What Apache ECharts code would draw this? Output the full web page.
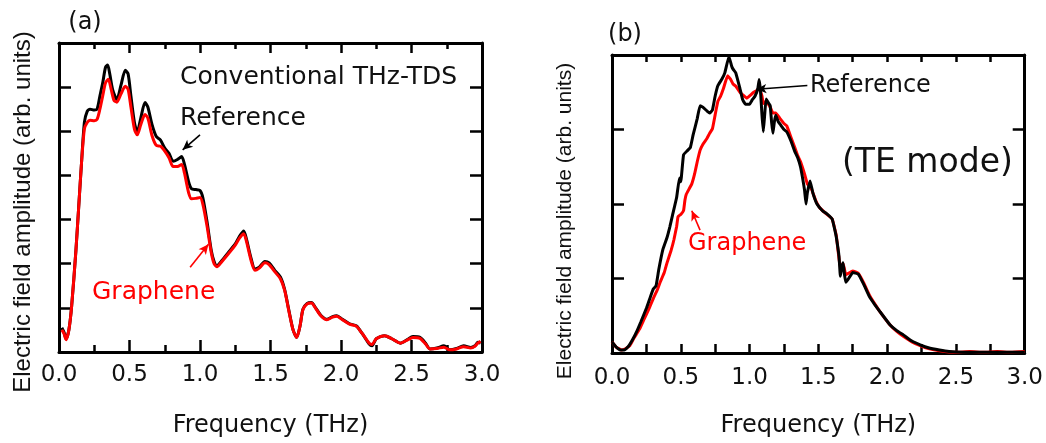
<!DOCTYPE html>
<html><head><meta charset="utf-8">
<script src="https://cdn.jsdelivr.net/npm/echarts@6/dist/echarts.min.js"></script>
<style>html,body{margin:0;padding:0;background:#fff}#c{width:1046px;height:443px}</style>
</head><body><div id="c"></div>
<script>
// ---- tick labels ----
const xTickLabels = ['0.0', '0.5', '1.0', '1.5', '2.0', '2.5', '3.0'];

// ---- panel (a): conventional THz-TDS ----
const refA = [[0.02,0.55],[0.035,0.45],[0.05,0.3],[0.07,0.5],[0.09,1.05],[0.12,2.3],[0.14,3.3],[0.16,4.3],[0.18,5.2],[0.2,5.45],[0.22,5.5],[0.25,5.48],[0.27,5.5],[0.29,5.8],[0.31,6.1],[0.33,6.45],[0.345,6.5],[0.36,6.3],[0.38,5.95],[0.41,5.72],[0.44,6.05],[0.47,6.38],[0.49,6.3],[0.51,5.8],[0.535,5.2],[0.555,4.98],[0.58,5.3],[0.61,5.65],[0.63,5.55],[0.66,5.15],[0.69,4.88],[0.72,4.8],[0.75,4.62],[0.78,4.5],[0.81,4.32],[0.84,4.36],[0.87,4.43],[0.89,4.25],[0.92,3.85],[0.94,3.7],[0.97,3.68],[1.0,3.66],[1.02,3.5],[1.05,2.95],[1.08,2.3],[1.1,2.05],[1.12,1.95],[1.15,2.05],[1.2,2.25],[1.25,2.45],[1.28,2.62],[1.31,2.74],[1.33,2.55],[1.36,2.15],[1.39,1.88],[1.42,1.92],[1.46,2.05],[1.49,2.02],[1.53,1.85],[1.57,1.7],[1.6,1.42],[1.63,0.95],[1.66,0.5],[1.686,0.33],[1.71,0.6],[1.73,0.97],[1.76,1.1],[1.79,1.12],[1.82,1.0],[1.86,0.82],[1.9,0.74],[1.94,0.8],[1.97,0.82],[2.01,0.74],[2.06,0.64],[2.11,0.59],[2.15,0.42],[2.2,0.18],[2.22,0.14],[2.25,0.3],[2.31,0.37],[2.36,0.3],[2.42,0.2],[2.47,0.28],[2.51,0.35],[2.56,0.33],[2.6,0.2],[2.63,0.07],[2.68,0.09],[2.73,0.14],[2.77,0.05],[2.82,0.08],[2.87,0.14],[2.92,0.1],[2.95,0.14],[2.97,0.22],[2.99,0.2]];
const graA = [[0.02,0.5],[0.035,0.42],[0.05,0.28],[0.07,0.5],[0.09,1.05],[0.12,2.3],[0.14,3.3],[0.16,4.3],[0.18,5.05],[0.2,5.2],[0.22,5.25],[0.25,5.24],[0.27,5.27],[0.29,5.5],[0.31,5.8],[0.33,6.1],[0.35,6.18],[0.37,5.95],[0.39,5.7],[0.41,5.66],[0.44,5.85],[0.47,6.02],[0.49,5.95],[0.51,5.55],[0.535,5.05],[0.555,4.92],[0.58,5.15],[0.61,5.38],[0.63,5.3],[0.66,4.9],[0.69,4.68],[0.72,4.66],[0.75,4.55],[0.78,4.4],[0.81,4.2],[0.84,4.2],[0.87,4.25],[0.89,4.05],[0.92,3.6],[0.94,3.47],[0.97,3.48],[1.0,3.5],[1.02,3.35],[1.05,2.85],[1.08,2.25],[1.1,2.0],[1.12,1.93],[1.15,2.03],[1.2,2.22],[1.25,2.42],[1.28,2.58],[1.31,2.68],[1.33,2.5],[1.36,2.1],[1.39,1.85],[1.42,1.9],[1.46,2.02],[1.49,1.98],[1.53,1.82],[1.57,1.66],[1.6,1.4],[1.63,0.93],[1.66,0.5],[1.686,0.33],[1.71,0.6],[1.73,0.96],[1.76,1.09],[1.79,1.11],[1.82,0.99],[1.86,0.81],[1.9,0.73],[1.94,0.79],[1.97,0.81],[2.01,0.73],[2.06,0.63],[2.11,0.58],[2.15,0.42],[2.2,0.2],[2.22,0.17],[2.25,0.3],[2.31,0.37],[2.36,0.3],[2.42,0.2],[2.47,0.27],[2.51,0.33],[2.56,0.31],[2.6,0.18],[2.63,0.07],[2.68,0.08],[2.73,0.11],[2.77,0.05],[2.82,0.07],[2.87,0.12],[2.92,0.09],[2.95,0.13],[2.97,0.2],[2.99,0.24]];

// ---- panel (b): TE mode ----
const refB = [[0.0,0.15],[0.03,0.08],[0.06,0.04],[0.09,0.04],[0.12,0.09],[0.15,0.18],[0.18,0.29],[0.21,0.42],[0.25,0.6],[0.28,0.76],[0.3,0.86],[0.32,0.9],[0.34,1.12],[0.37,1.39],[0.4,1.55],[0.42,1.69],[0.44,1.85],[0.47,2.09],[0.49,2.35],[0.5,2.3],[0.52,2.66],[0.55,2.72],[0.57,2.76],[0.59,2.93],[0.62,3.15],[0.64,3.32],[0.66,3.3],[0.69,3.25],[0.71,3.22],[0.73,3.26],[0.75,3.45],[0.77,3.59],[0.8,3.68],[0.82,3.76],[0.85,3.98],[0.87,3.85],[0.88,3.81],[0.9,3.76],[0.93,3.55],[0.95,3.4],[0.97,3.34],[1.0,3.34],[1.02,3.4],[1.04,3.45],[1.06,3.55],[1.07,3.67],[1.08,3.5],[1.09,3.2],[1.1,2.97],[1.11,3.2],[1.12,3.41],[1.14,3.35],[1.15,3.32],[1.16,3.1],[1.17,2.95],[1.18,3.1],[1.19,3.19],[1.21,3.1],[1.23,3.05],[1.25,3.0],[1.27,2.97],[1.3,2.85],[1.33,2.7],[1.35,2.62],[1.37,2.5],[1.39,2.3],[1.4,2.18],[1.41,2.0],[1.42,2.15],[1.44,2.31],[1.46,2.15],[1.49,2.0],[1.53,1.91],[1.56,1.87],[1.6,1.8],[1.62,1.65],[1.63,1.56],[1.65,1.3],[1.66,1.03],[1.67,1.15],[1.68,1.21],[1.69,1.05],[1.7,0.95],[1.72,1.0],[1.75,1.08],[1.79,1.06],[1.83,0.92],[1.87,0.76],[1.91,0.65],[1.95,0.55],[2.02,0.38],[2.07,0.3],[2.12,0.24],[2.18,0.16],[2.24,0.11],[2.3,0.07],[2.38,0.04],[2.45,0.02],[2.55,0.01],[2.7,0.01],[2.85,0.01],[3.0,0.01]];
const graB = [[0.0,0.15],[0.03,0.08],[0.07,0.04],[0.1,0.06],[0.13,0.1],[0.16,0.2],[0.2,0.32],[0.23,0.44],[0.27,0.6],[0.3,0.73],[0.33,0.85],[0.35,0.95],[0.38,1.08],[0.4,1.21],[0.43,1.38],[0.45,1.52],[0.47,1.7],[0.48,1.83],[0.5,1.86],[0.52,1.91],[0.53,2.05],[0.54,2.13],[0.56,2.2],[0.58,2.27],[0.6,2.4],[0.62,2.57],[0.64,2.72],[0.66,2.8],[0.69,2.88],[0.71,2.95],[0.73,3.01],[0.75,3.2],[0.77,3.38],[0.79,3.45],[0.81,3.55],[0.84,3.72],[0.86,3.68],[0.88,3.61],[0.9,3.58],[0.93,3.5],[0.96,3.45],[0.98,3.42],[1.0,3.45],[1.03,3.5],[1.05,3.52],[1.07,3.55],[1.09,3.45],[1.1,3.35],[1.12,3.38],[1.15,3.3],[1.17,3.22],[1.19,3.22],[1.22,3.15],[1.25,3.08],[1.27,3.05],[1.3,2.9],[1.33,2.75],[1.35,2.65],[1.37,2.57],[1.4,2.4],[1.42,2.27],[1.45,2.2],[1.48,2.05],[1.51,1.95],[1.55,1.88],[1.6,1.8],[1.63,1.58],[1.66,1.15],[1.68,1.2],[1.7,1.05],[1.75,1.1],[1.79,1.07],[1.83,0.94],[1.87,0.78],[1.91,0.66],[1.95,0.55],[2.02,0.38],[2.07,0.29],[2.12,0.22],[2.18,0.15],[2.24,0.1],[2.3,0.06],[2.38,0.03],[2.5,0.01],[2.6,0.02],[2.7,0.01],[2.8,0.02],[2.9,0.01],[3.0,0.02]];

// ---- annotation arrows (data coordinates: [from, to]) ----
const arrowRefA = [[1.0, 4.92], [0.877, 4.58]];
const arrowGraA = [[0.93, 1.92], [1.06, 2.44]];
const arrowRefB = [[1.42, 3.59], [1.05, 3.54]];
const arrowGraB = [[0.64, 1.65], [0.58, 1.91]];

const TXT = '#111';
const FONT = 'DejaVu Sans';

function xAx(grid, pos, main, majorLen, minorLen, margin, nameGap) {
  return {
    type: 'value', gridIndex: grid, position: pos, min: 0, max: 3, interval: 0.5,
    axisLine: { show: true, onZero: false, lineStyle: { color: '#000', width: 3 } },
    axisTick: { show: true, inside: true, length: majorLen, lineStyle: { color: '#000', width: 2.5 } },
    minorTick: { show: true, splitNumber: 2, length: minorLen, lineStyle: { color: '#000', width: 2.5 } },
    splitLine: { show: false }, minorSplitLine: { show: false },
    axisLabel: { show: main, margin: margin, color: TXT, fontFamily: FONT, fontSize: 23,
      formatter: v => xTickLabels[Math.round(v / 0.5)] },
    name: main ? 'Frequency (THz)' : '', nameLocation: 'middle', nameGap: nameGap,
    nameTextStyle: { color: TXT, fontFamily: FONT, fontSize: 24 }
  };
}
function yAx(grid, pos, max, len) {
  return {
    type: 'value', gridIndex: grid, position: pos, min: 0, max: max, interval: 1,
    axisLine: { show: true, onZero: false, lineStyle: { color: '#000', width: 3 } },
    axisTick: { show: true, inside: true, length: len, lineStyle: { color: '#000', width: 2.5 } },
    splitLine: { show: false },
    axisLabel: { show: false }
  };
}
function arrowLine(pts, color) {
  return {
    silent: true, animation: false, symbol: ['none', 'arrow'], symbolSize: [7, 10],
    lineStyle: { color: color, width: 1.6, type: 'solid' },
    label: { show: false },
    emphasis: { disabled: true },
    data: [[{ coord: pts[0] }, { coord: pts[1] }]]
  };
}
function lineSeries(data, color, xi, yi, z, extra) {
  return Object.assign({
    type: 'line', data: data, xAxisIndex: xi, yAxisIndex: yi, showSymbol: false, symbol: 'none',
    smooth: 0.25, z: z, animation: false, silent: true,
    lineStyle: { color: color, width: 3 }
  }, extra || {});
}

const chart = echarts.init(document.getElementById('c'));
chart.setOption({
  backgroundColor: '#fff',
  animation: false,
  grid: [
    { left: 59, top: 43, width: 423, height: 310 },
    { left: 612, top: 55, width: 413, height: 303 }
  ],
  xAxis: [
    xAx(0, 'bottom', true, 12, 7, 12, 62),
    xAx(0, 'top', false, 10, 6, 9, 58),
    xAx(1, 'bottom', true, 9, 9, 14, 61),
    xAx(1, 'top', false, 7, 7, 10, 56)
  ],
  yAxis: [
    yAx(0, 'left', 7, 12), yAx(0, 'right', 7, 12),
    yAx(1, 'left', 4, 12), yAx(1, 'right', 4, 12)
  ],
  series: [
    lineSeries(refA, '#000', 0, 0, 2, { markLine: arrowLine(arrowRefA, '#000') }),
    lineSeries(graA, '#ff0000', 0, 0, 3, { markLine: arrowLine(arrowGraA, '#ff0000') }),
    lineSeries(graB, '#ff0000', 2, 2, 2, { smooth: 0.1, markLine: arrowLine(arrowGraB, '#ff0000') }),
    lineSeries(refB, '#000', 2, 2, 3, { smooth: 0.1, markLine: arrowLine(arrowRefB, '#000') })
  ],
  graphic: [
    { type: 'text', x: 85, y: 23, style: { text: '(a)', fill: TXT, font: '24px "DejaVu Sans"', align: 'center', verticalAlign: 'middle' } },
    { type: 'text', x: 180, y: 77, style: { text: 'Conventional THz-TDS', fill: TXT, font: '25px "DejaVu Sans"', align: 'left', verticalAlign: 'middle' } },
    { type: 'text', x: 180, y: 118, style: { text: 'Reference', fill: TXT, font: '25px "DejaVu Sans"', align: 'left', verticalAlign: 'middle' } },
    { type: 'text', x: 92, y: 292, style: { text: 'Graphene', fill: '#ff0000', font: '25px "DejaVu Sans"', align: 'left', verticalAlign: 'middle' } },
    { type: 'text', x: 23, y: 212, rotation: Math.PI / 2, style: { text: 'Electric field amplitude (arb. units)', fill: TXT, font: '24px "Liberation Sans"', align: 'center', verticalAlign: 'middle' } },
    { type: 'text', x: 625, y: 35, style: { text: '(b)', fill: TXT, font: '24px "DejaVu Sans"', align: 'center', verticalAlign: 'middle' } },
    { type: 'text', x: 810, y: 86, style: { text: 'Reference', fill: TXT, font: '24px "DejaVu Sans"', align: 'left', verticalAlign: 'middle' } },
    { type: 'text', x: 688, y: 244, style: { text: 'Graphene', fill: '#ff0000', font: '24px "DejaVu Sans"', align: 'left', verticalAlign: 'middle' } },
    { type: 'text', x: 842, y: 163, style: { text: '(TE mode)', fill: TXT, font: '33px "DejaVu Sans"', align: 'left', verticalAlign: 'middle' } },
    { type: 'text', x: 565, y: 221, rotation: Math.PI / 2, style: { text: 'Electric field amplitude (arb. units)', fill: TXT, font: '21px "Liberation Sans"', align: 'center', verticalAlign: 'middle' } }
  ]
});
</script>
</body></html>
